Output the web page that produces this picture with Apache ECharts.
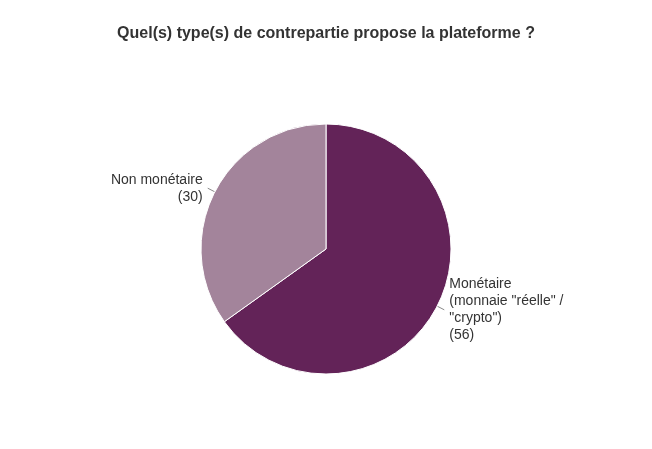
<!DOCTYPE html>
<html><head><meta charset="utf-8">
<script src="https://cdn.jsdelivr.net/npm/echarts@6/dist/echarts.min.js"></script>
<style>html,body{margin:0;padding:0;background:#fff}#c{width:652px;height:449px}</style>
</head><body><div id="c"></div>
<script>
const categories = ['Monétaire\n(monnaie "réelle" /\n"crypto")', 'Non monétaire'];
const values = [56, 30];
const colors = ['#632358', '#a3849b'];
const chart = echarts.init(document.getElementById('c'));
chart.setOption({
  animation: false,
  title: { text: 'Quel(s) type(s) de contrepartie propose la plateforme ?', left: 'center', top: 21,
    textStyle: { fontFamily: 'Liberation Sans, Arial', fontSize: 16, fontWeight: 'bold', color: '#333' } },
  series: [{
    type: 'pie', center: [326, 249], radius: 125, startAngle: 90, clockwise: true,
    data: categories.map((n, i) => ({ name: n, value: values[i], itemStyle: { color: colors[i] } })),
    itemStyle: { borderColor: '#fff', borderWidth: 1 },
    label: { formatter: '{b}\n({c})', fontFamily: 'Liberation Sans, Arial', fontSize: 14, color: '#333', lineHeight: 17, alignTo: 'none' },
    labelLine: { length: 8, length2: 0, lineStyle: { color: '#888' } }
  }]
});
</script></body></html>
